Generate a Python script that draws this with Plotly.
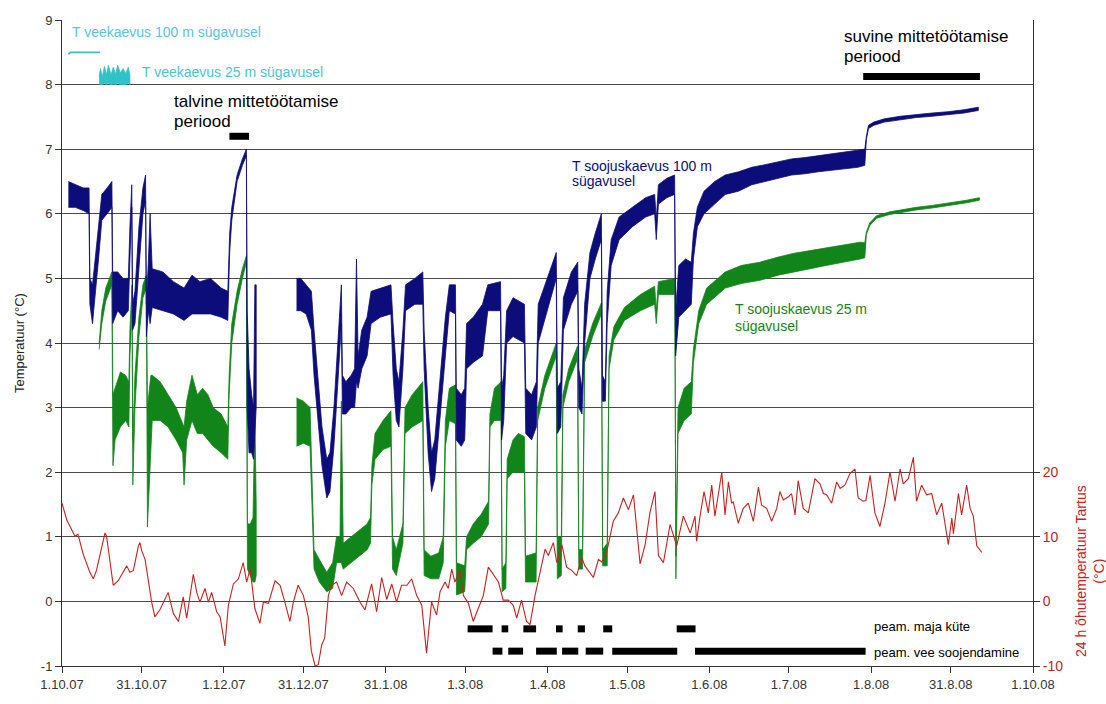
import pandas as pd
import plotly.graph_objects as go

START = pd.Timestamp("2007-10-01")

# ---- Ground-source borehole, 100 m depth (days from 1.10.07, band top / bottom, °C)
bore100_days_1 = [2.4, 5, 8, 10.2, 10.5, 11.5, 12.5, 14, 15, 17, 18.8, 19.1, 21, 23, 25, 25.6, 26.3,
                  26.6, 27.5, 29, 30.5, 31.5, 31.8, 32.6, 33.2, 34, 38, 42, 46, 49, 52, 56, 60, 62.5,
                  63.2, 64, 66, 68, 69.5, 69.8, 70.5, 71.5, 72.2, 72.7, 73.2]
bore100_hi_1 = [6.5, 6.45, 6.4, 6.4, 5.0, 4.9, 5.3, 6.0, 6.3, 6.4, 6.5, 5.1, 5.1, 5.0, 5.0, 5.8, 6.45,
                4.6, 4.8, 5.8, 6.4, 6.6, 4.6, 5.3, 6.0, 5.15, 5.1, 4.95, 4.85, 5.05, 4.95, 5.0, 4.85, 4.8,
                5.7, 6.1, 6.6, 6.85, 7.0, 4.5, 3.6, 3.2, 3.0, 4.9, 4.9]
bore100_lo_1 = [6.1, 6.1, 6.05, 6.0, 4.6, 4.3, 4.7, 5.4, 5.9, 6.0, 6.1, 4.3, 4.5, 4.4, 4.5, 5.3, 6.1,
                4.2, 4.3, 5.2, 6.0, 6.2, 4.1, 4.5, 4.3, 4.55, 4.5, 4.45, 4.35, 4.45, 4.45, 4.45, 4.4, 4.35,
                5.4, 5.9, 6.5, 6.75, 6.9, 3.0, 2.3, 2.3, 2.2, 2.6, 3.0]

bore100_days_2 = [88.4, 90, 92, 94, 95, 96.5, 98, 99.8, 101, 102.5, 104, 105.3, 105.7, 107, 109, 110.3,
                  111, 111.6, 113, 115, 116.5, 120, 124, 124.8, 126, 127, 128.5, 129.5, 133, 136, 136.5,
                  138, 139.3, 140.5, 142.5, 144.5, 146, 148.3, 148.6, 150.5, 151.8, 152.5, 155, 158.5,
                  160.5, 165.3, 165.7, 166.5, 167.6, 170, 174.3, 174.8, 177, 178.8, 179.5, 183, 186.3,
                  186.7, 188, 189, 192, 194.4, 194.8, 196, 197, 199, 201, 203.3, 203.7, 204.8, 205.5,
                  207, 210, 215, 220, 223.4, 224, 224.8, 228, 230.9, 231.3, 232.5, 235, 237.2, 238,
                  239.5, 242, 246, 250, 255, 260, 265, 270, 275, 280, 285, 290, 295, 300, 302.6, 303.2,
                  304, 306, 310, 316, 322, 328, 334, 340, 345.4]
bore100_hi_2 = [5.0, 5.0, 4.9, 4.8, 4.2, 3.4, 2.7, 2.2, 2.3, 3.0, 4.0, 4.9, 3.5, 3.4, 3.5, 3.6,
                5.3, 3.8, 4.2, 4.4, 4.8, 4.85, 4.9, 4.3, 3.6, 3.4, 4.2, 4.9, 5.0, 5.1, 4.2,
                3.0, 2.3, 2.5, 3.5, 4.4, 4.9, 4.9, 3.3, 3.2, 3.3, 4.3, 4.4, 4.6,
                4.9, 4.95, 3.3, 3.5, 4.5, 4.7, 4.6, 3.3, 3.2, 3.4, 4.6, 5.0, 5.4,
                3.3, 3.4, 4.7, 5.1, 5.25, 3.6, 3.3, 4.6, 5.4, 5.7, 6.0, 3.5, 3.4, 4.8,
                5.6, 5.95, 6.1, 6.25, 6.3, 5.9, 6.45, 6.55, 6.6, 4.5, 5.2, 5.3, 5.25, 5.7,
                6.1, 6.35, 6.5, 6.6, 6.65, 6.72, 6.76, 6.8, 6.85, 6.87, 6.9, 6.92, 6.95, 6.98, 7.0, 7.2,
                7.37, 7.42, 7.47, 7.51, 7.54, 7.56, 7.58, 7.61, 7.65]
bore100_lo_2 = [4.5, 4.5, 4.45, 4.2, 3.5, 2.8, 2.1, 1.6, 1.7, 2.4, 3.4, 4.3, 2.9, 2.9, 3.0, 3.0,
                3.4, 3.3, 3.6, 3.8, 4.3, 4.4, 4.45, 3.5, 2.8, 2.7, 3.6, 4.5, 4.6, 4.6, 3.6,
                2.3, 1.7, 1.9, 2.8, 3.8, 4.5, 4.45, 2.5, 2.4, 2.5, 3.6, 3.7, 3.8,
                4.5, 4.5, 2.5, 2.8, 4.0, 4.1, 4.0, 2.6, 2.5, 2.7, 4.0, 4.5, 5.0,
                2.6, 2.7, 4.2, 4.6, 4.8, 3.0, 2.9, 4.0, 5.0, 5.3, 5.6, 3.1, 3.1, 4.3,
                5.2, 5.6, 5.8, 5.95, 6.0, 5.6, 6.15, 6.25, 6.3, 3.8, 4.4, 4.5, 4.6, 5.3,
                5.8, 6.0, 6.15, 6.3, 6.35, 6.45, 6.5, 6.55, 6.6, 6.62, 6.65, 6.68, 6.7, 6.72, 6.75, 7.15,
                7.32, 7.37, 7.42, 7.46, 7.49, 7.51, 7.53, 7.56, 7.6]

# ---- Ground-source borehole, 25 m depth
bore25_days_1 = [14, 15, 16.5, 18.8, 19.2, 20, 22, 24, 25.2, 25.6, 26.4, 26.7, 27.5, 29, 30.5, 31.8,
                 32.2, 33.5, 34, 37, 40, 43, 45.5, 46, 47, 49, 51, 53, 55, 57, 60, 62.5, 63, 64, 66,
                 68, 69.5, 69.9, 71, 72, 72.7, 73.2]
bore25_hi_1 = [4.0, 4.5, 4.85, 5.1, 3.2, 3.3, 3.55, 3.5, 3.4, 4.2, 4.9, 2.5, 3.5, 4.4, 4.9, 5.05,
               3.0, 3.5, 3.5, 3.4, 3.2, 3.0, 2.75, 2.7, 3.1, 3.5, 3.2, 3.3, 3.2, 3.0, 2.9, 2.7, 3.5,
               4.3, 4.8, 5.15, 5.35, 1.2, 1.2, 1.3, 2.9, 1.5]
bore25_lo_1 = [3.9, 4.3, 4.65, 4.9, 2.1, 2.5, 2.7, 2.8, 2.7, 3.8, 4.5, 1.8, 3.0, 4.1, 4.7, 4.85,
               1.15, 2.4, 2.8, 2.8, 2.7, 2.5, 2.3, 1.8, 2.5, 2.8, 2.6, 2.6, 2.5, 2.4, 2.3, 2.2, 3.2,
               4.0, 4.6, 5.0, 5.25, 0.5, 0.4, 0.3, 0.3, 0.4]

bore25_days_2 = [88.4, 91, 93.5, 94.3, 95, 97, 99.8, 102, 103.5, 104.8, 105.3, 106, 109, 112, 115,
                 116.3, 116.8, 118, 121, 124, 124.6, 126, 128.5, 129.3, 132, 136, 136.5, 139, 142,
                 143.7, 144.5, 146, 148.3, 148.7, 151.8, 152.5, 155, 158, 160.8, 161.3, 163, 165.5,
                 165.9, 167.3, 167.8, 170, 172, 174.3, 174.7, 178.7, 179.3, 182, 186.3, 186.7, 188.2,
                 188.8, 191, 194.3, 194.8, 196.2, 197, 200, 203.3, 203.8, 205.5, 206.2, 208, 212, 218,
                 223.4, 224, 224.8, 231, 231.4, 232.2, 234.5, 237.2, 238, 240, 243, 250, 256, 263, 270,
                 276, 282, 288, 295, 300.8, 302.6, 303.2, 304.5, 307, 312, 316, 322, 328, 335, 341,
                 345.8]
bore25_hi_2 = [3.15, 3.1, 3.0, 2.0, 0.8, 0.65, 0.45, 0.6, 1.0, 1.0, 3.1, 0.9, 1.0, 1.1, 1.2,
               1.3, 2.1, 2.6, 2.8, 2.95, 1.0, 0.8, 1.2, 3.0, 3.2, 3.4, 0.8, 0.7, 0.75,
               1.0, 2.8, 3.3, 3.35, 0.6, 0.55, 1.0, 1.2, 1.35, 1.55, 2.9, 3.3, 3.4,
               0.5, 0.6, 2.2, 2.5, 2.6, 2.55, 0.7, 0.75, 3.0, 3.5, 4.0, 1.0, 1.0,
               3.2, 3.6, 3.95, 0.8, 0.8, 3.9, 4.3, 4.62, 0.8, 0.9, 3.8, 4.25, 4.55, 4.75,
               4.88, 4.5, 4.95, 5.0, 0.7, 3.0, 3.3, 3.4, 3.9, 4.5, 4.85, 5.1, 5.2, 5.25, 5.33,
               5.39, 5.43, 5.47, 5.52, 5.56, 5.55, 5.72, 5.86, 5.97, 6.03, 6.06, 6.1, 6.13, 6.17, 6.21,
               6.25]
bore25_lo_2 = [2.4, 2.45, 2.4, 1.4, 0.5, 0.3, 0.15, 0.2, 0.6, 0.6, 0.6, 0.5, 0.6, 0.7, 0.8,
               0.9, 1.8, 2.2, 2.35, 2.4, 0.5, 0.4, 0.9, 2.6, 2.7, 2.8, 0.4, 0.35, 0.35,
               0.6, 2.4, 2.8, 2.75, 0.1, 0.15, 0.8, 0.9, 1.0, 1.2, 2.7, 2.8, 2.8,
               0.15, 0.2, 1.9, 2.0, 2.0, 2.0, 0.3, 0.3, 2.8, 3.3, 3.8, 0.35, 0.4,
               3.0, 3.4, 3.75, 0.5, 0.5, 3.7, 4.1, 4.45, 0.55, 0.55, 3.6, 4.05, 4.35, 4.5,
               4.6, 4.3, 4.75, 4.75, 0.35, 2.6, 2.8, 2.9, 3.7, 4.3, 4.6, 4.85, 4.92, 4.97, 5.05,
               5.1, 5.15, 5.2, 5.25, 5.3, 5.32, 5.68, 5.82, 5.93, 5.99, 6.02, 6.06, 6.09, 6.13, 6.17,
               6.21]

# ---- Water wells (short record at the start)
well100_days = [2.4, 3.2, 6, 10, 14.3]
well100_temp = [8.47, 8.5, 8.5, 8.5, 8.5]
well25_days = [14, 14.5, 15.2, 16, 16.8, 17.5, 18.5, 19.3, 20.2, 21, 22, 23, 24, 25, 25.6]
well25_hi = [8.12, 8.25, 8.12, 8.28, 8.15, 8.3, 8.15, 8.27, 8.16, 8.3, 8.18, 8.25, 8.17, 8.27, 8.15]
well25_lo = [8.0, 8.0, 8.0, 8.02, 8.0, 8.02, 8.0, 8.01, 8.0, 8.02, 8.0, 8.0, 8.0, 8.02, 8.0]

# ---- 24 h air temperature, Tartu (°C, right axis)
air_days = [0, 1.8, 4.9, 6, 8, 10.5, 11.8, 13, 16.2, 16.8, 19.3, 21.2, 24.4, 25.6, 26.9, 28.8, 29.4,
            30, 31.3, 33.8, 35, 36.9, 40, 42, 43.9, 45.7, 47, 49.5, 50.8, 52, 53.9, 55.2, 56.4, 58.3,
            59.6, 61.4, 62.7, 64.6, 66.5, 68.3, 69.6, 70.9, 72.7, 74.6, 75.9, 77.8, 80.3, 82.2, 84,
            85.9, 87.2, 89, 91, 92.8, 94, 95.4, 96.6, 97.9, 99, 100.4, 101.6, 103.5, 105.4, 107.3,
            109.8, 112.3, 114.2, 116.7, 118.6, 120.5, 122.4, 124.3, 126.1, 128, 130, 131.8, 133.7,
            135.6, 137.4, 139.3, 141.2, 142.5, 144.4, 145.6, 146.9, 148.1, 150, 151.3, 153.2, 155,
            156.9, 158.8, 160.7, 162.6, 164.5, 166.3, 168.2, 170.1, 171.4, 173.2, 175.1, 176.4,
            178.3, 180.2, 182.1, 183.3, 185.2, 186.5, 188.4, 190.2, 192.1, 194, 195.9, 197.1, 199,
            200.3, 202.2, 203.4, 205.3, 207.8, 209.7, 211.6, 213.5, 215.4, 217.9, 219.8, 221.6,
            223.5, 224.8, 226.7, 229.2, 231.7, 234.2, 236.8, 238.6, 239.2, 240.5, 242, 243.6, 244.9,
            246.1, 248.7, 249.9, 251.2, 252.4, 253, 254.9, 256.8, 258.7, 260.6, 262.5, 263.7, 265.6,
            267.5, 269.4, 270.6, 271.9, 273.8, 275, 276.3, 277.5, 279.4, 281.3, 283.8, 285.7, 287,
            288.2, 290.1, 292, 293.3, 295.1, 297, 298.9, 300.1, 302, 303, 304.6, 306.4, 308.3, 310.2,
            312.1, 314, 315.9, 317.1, 319, 320.9, 322.1, 324, 325.9, 327.8, 329.7, 331.6, 334.1,
            335.4, 336, 337.9, 339.1, 341, 342.3, 343.5, 344.8, 346.7]
air_temp = [15.2, 12.6, 10.1, 10.4, 7.3, 4.5, 3.5, 4.8, 10.6, 10.1, 2.5, 3.2, 5.5, 4.5, 4.8, 8.6, 9.1,
            7.9, 6.5, -0.1, -2.4, -1.3, 1.4, -1.9, -3.1, 0.7, -2.6, 4.2, 1.4, -0.1, 2.0, -0.1, 1.4, -1.6,
            -2.4, -6.9, -0.6, 2.7, 3.5, 6.0, 3.0, 5.0, -1.1, -3.4, -0.1, -0.3, 3.2, 2.5, -0.1,
            -3.1, -0.1, 2.5, 0.9, -2.4, -7.7, -10.0, -9.8, -6.7, -5.7, 0.9, 2.5, 3.0, 0.9, 3.0,
            2.0, -0.1, -1.3, 2.7, -1.6, 3.7, 0.3, 2.7, -0.1, 2.5, 2.5, 3.5, 0.9,
            -0.6, -8.0, -0.1, -2.1, 1.5, 3.0, 2.0, 5.0, 3.0, 4.8, 0.9, -0.3, -3.1,
            -1.1, 0.9, 5.3, 4.2, 3.0, 0.2, 0.2, -0.6, -2.6, 0.2, -3.1, -3.6,
            0.9, 4.5, 8.1, 7.1, 9.1, 6.0, 8.8, 5.3, 4.8, 4.0, 6.8, 5.5, 4.5,
            3.7, 6.5, 6.1, 7.6, 12.4, 13.7, 16.0, 14.2, 16.5, 5.8, 8.8, 13.7,
            17.0, 7.1, 6.0, 11.9, 8.6, 13.2, 10.6, 13.2, 9.3, 13.2, 17.0, 13.7, 18.0,
            13.2, 20.0, 13.4, 18.5, 15.2, 15.4, 12.1, 14.4, 15.2, 12.4, 17.7, 14.9, 14.4,
            12.4, 14.4, 17.0, 15.7, 16.2, 16.7, 13.4, 18.7, 14.4, 13.7, 19.0, 18.2, 16.7,
            16.5, 15.2, 18.5, 17.5, 18.0, 19.8, 20.5, 16.0, 15.5, 15.6, 19.5, 13.7, 11.6, 15.2,
            20.0, 15.5, 20.5, 18.2, 19.0, 22.3, 15.5, 18.0, 16.5, 16.7, 13.4, 15.2, 8.8,
            12.9, 10.5, 16.7, 13.4, 18.0, 14.4, 13.2, 8.6, 7.6]

# ---- Operating periods (start day, end day)
winter_stop = [(63.1, 70.5)]
summer_stop = [(302.0, 346.0)]
house_heating = [(152.9, 162.3), (165.7, 168.2), (173.9, 178.7), (186.2, 188.7), (194.4, 197.1),
                 (204.0, 207.4), (231.7, 238.8)]
water_heating = [(162.3, 166.0), (168.2, 173.8), (178.7, 186.5), (188.5, 194.6), (197.4, 204.0),
                 (207.4, 231.9), (238.6, 302.9)]

tick_dates = ["2007-10-01", "2007-10-31", "2007-12-01", "2007-12-31", "2008-01-31", "2008-03-01",
              "2008-04-01", "2008-05-01", "2008-06-01", "2008-07-01", "2008-08-01", "2008-08-31",
              "2008-10-01"]
tick_labels = ["1.10.07", "31.10.07", "1.12.07", "31.12.07", "31.1.08", "1.3.08", "1.4.08",
               "1.5.08", "1.6.08", "1.7.08", "1.8.08", "31.8.08", "1.10.08"]

NAVY = "#0c0c7a"
GREEN = "#12851a"
RED = "#c8221f"
FONT = "Liberation Sans, Arial, sans-serif"


def dates(days):
    return [START + pd.Timedelta(days=float(d)) for d in days]


def band(days, hi, lo, color):
    """Filled envelope of a noisy logger record."""
    xs = dates(list(days) + list(days)[::-1])
    ys = list(hi) + list(lo)[::-1]
    return go.Scatter(x=xs, y=ys, mode="lines", fill="toself", fillcolor=color,
                      line=dict(color=color, width=0.8), hoverinfo="skip", showlegend=False)


def period_bars(spans, level):
    xs, ys = [], []
    for a, b in spans:
        xs += dates([a, b]) + [None]
        ys += [level, level, None]
    return go.Scatter(x=xs, y=ys, mode="lines", line=dict(color="black", width=7),
                      hoverinfo="skip", showlegend=False)


fig = go.Figure()

fig.add_trace(band(bore25_days_1, bore25_hi_1, bore25_lo_1, GREEN))
fig.add_trace(band(bore25_days_2, bore25_hi_2, bore25_lo_2, GREEN))
fig.add_trace(band(bore100_days_1, bore100_hi_1, bore100_lo_1, NAVY))
fig.add_trace(band(bore100_days_2, bore100_hi_2, bore100_lo_2, NAVY))
fig.add_trace(go.Scatter(x=dates(well100_days), y=well100_temp, mode="lines",
                         line=dict(color="#45b8cf", width=1.8), showlegend=False))
fig.add_trace(band(well25_days, well25_hi, well25_lo, "#2fc2c6"))

fig.add_trace(period_bars(winter_stop, 7.2))
fig.add_trace(period_bars(summer_stop, 8.125))
fig.add_trace(period_bars(house_heating, -0.425))
fig.add_trace(period_bars(water_heating, -0.77))

fig.add_trace(go.Scatter(x=dates(air_days), y=air_temp, mode="lines", yaxis="y2",
                         line=dict(color=RED, width=1.1), showlegend=False))


def label(day, y, text, color, size, anchor="left"):
    fig.add_annotation(x=START + pd.Timedelta(days=day), y=y, text=text, showarrow=False,
                       xanchor=anchor, yanchor="middle", font=dict(family=FONT, size=size, color=color))


label(3.0, 8.82, "T veekaevus 100 m sügavusel", "#5cc3d8", 14)
label(29.4, 8.19, "T veekaevus 25 m sügavusel", "#4ac6d2", 14)
label(41.3, 7.733, "talvine mittetöötamise", "black", 17)
label(41.3, 7.427, "periood", "black", 17)
label(294.0, 8.745, "suvine mittetöötamise", "black", 17)
label(294.0, 8.44, "periood", "black", 17)
label(191.5, 6.747, "T soojuskaevus 100 m", NAVY, 14)
label(191.5, 6.507, "sügavusel", NAVY, 14)
label(253.0, 4.522, "T soojuskaevus 25 m", GREEN, 14)
label(253.0, 4.267, "sügavusel", GREEN, 14)
label(305.2, -0.39, "peam. maja küte", "black", 13)
label(305.2, -0.786, "peam. vee soojendamine", "black", 13)

fig.add_annotation(xref="paper", yref="paper", x=-0.0443, y=0.5, text="Temperatuur (°C)",
                   xanchor="center", yanchor="middle",
                   textangle=-90, showarrow=False, font=dict(family=FONT, size=13, color="#222"))
fig.add_annotation(xref="paper", yref="paper", x=1.0587, y=0.147,
                   xanchor="center", yanchor="middle",
                   text="24 h õhutemperatuur Tartus<br>(°C)", textangle=-90, showarrow=False,
                   font=dict(family=FONT, size=14, color=RED))

fig.update_layout(
    width=1106, height=704,
    margin=dict(l=62, r=73, t=20, b=29),
    paper_bgcolor="white", plot_bgcolor="white",
    font=dict(family=FONT, size=13, color="#333"),
    xaxis=dict(type="date", range=[tick_dates[0], tick_dates[-1]], tickvals=tick_dates,
               ticktext=tick_labels, showgrid=False, showline=True, linecolor="#333",
               ticks="outside", ticklen=6, tickcolor="#333", zeroline=False),
    yaxis=dict(range=[-1, 9], tickvals=list(range(-1, 10)),
               ticktext=[str(v) for v in range(-1, 10)], showgrid=True, gridcolor="#4a4a4a",
               gridwidth=1, showline=True, linecolor="#333", ticks="outside", ticklen=6,
               tickcolor="#333", zeroline=False),
    yaxis2=dict(range=[-10, 90], overlaying="y", side="right", tickvals=[-10, 0, 10, 20],
                ticktext=["-10", "0", "10", "20"], tickfont=dict(color=RED, size=14),
                showgrid=False, showline=True, linecolor="#333", ticks="outside", ticklen=6,
                tickcolor="#333", zeroline=False),
)

fig.write_html("out.html")
